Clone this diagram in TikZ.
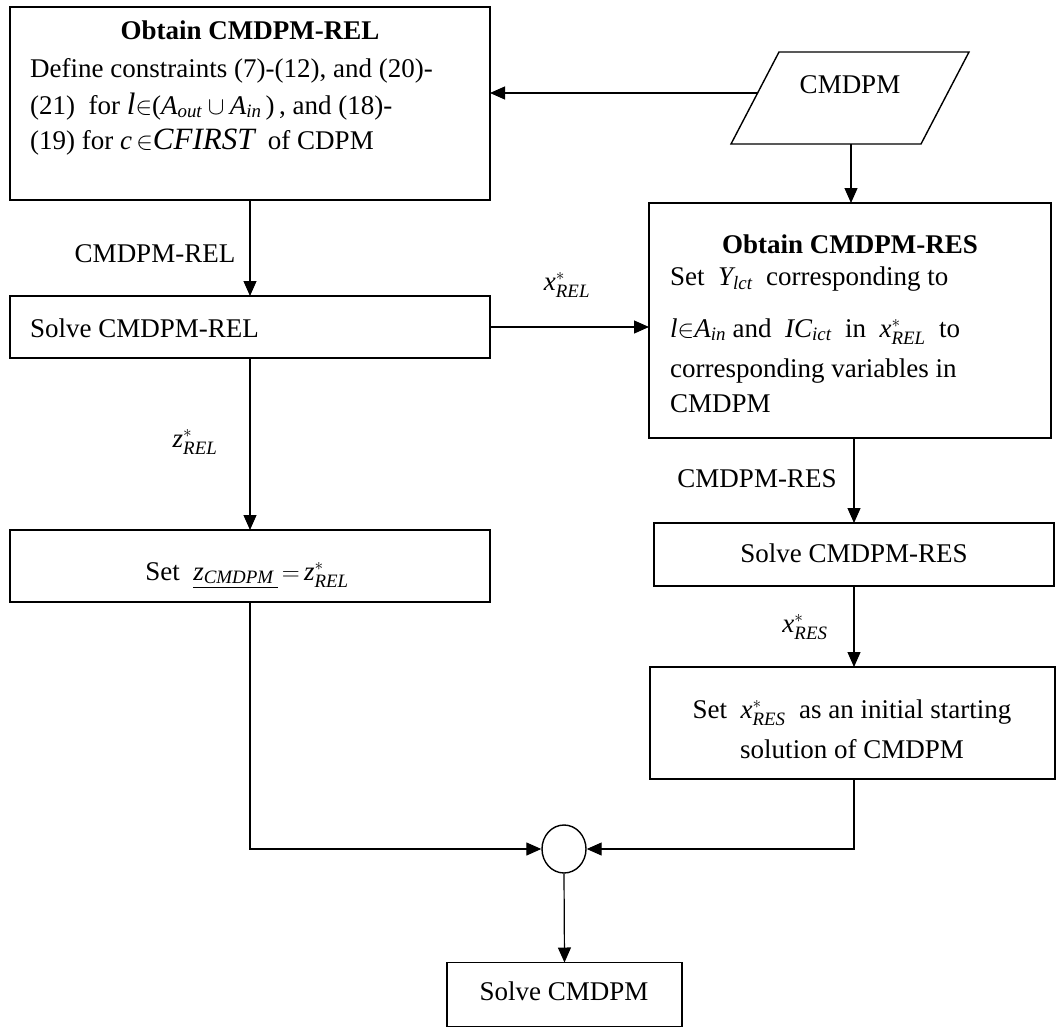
\documentclass[tikz,border=0pt]{standalone}
\usepackage{amsmath}
\usepackage{fontspec}
\setmainfont{Liberation Serif}
\usetikzlibrary{arrows.meta,shapes.geometric}
\newcommand{\vi}[1]{\textit{#1}}
\newcommand{\tin}{\mathord{\in}}
\begin{document}
\begin{tikzpicture}[x=1pt,y=-1pt,
  every node/.style={font=\fontsize{27}{37}\selectfont, inner sep=0pt},
  box/.style={draw, line width=1.5pt, inner sep=0pt, outer sep=0pt},
  conn/.style={line width=1.2pt},
  arr/.style={conn, -{Triangle[length=15pt,width=13pt]}},
  lbl/.style={inner sep=0pt}]
\useasboundingbox (0,0) rectangle (1057,1028);

% ---------- boxes ----------
\node[box, minimum width=480pt, minimum height=193pt] (obtrel) at (250,103.5) {};
\node[box, minimum width=480pt, minimum height=62pt]  (solverel) at (250,327) {};
\node[box, minimum width=480pt, minimum height=72pt]  (setz) at (250,566) {};
\node[box, minimum width=402pt, minimum height=235pt] (obtres) at (850,320.5) {};
\node[box, minimum width=400pt, minimum height=63pt]  (solveres) at (854,554.5) {};
\node[box, minimum width=405pt, minimum height=112pt] (setx) at (852.5,723) {};
\node[box, minimum width=235pt, minimum height=64pt]  (final) at (564.5,994.5) {};
\node[draw, ellipse, line width=1.4pt, minimum width=44pt, minimum height=48pt, inner sep=0pt] (circ) at (564,849) {};

% parallelogram (input CMDPM)
\draw[line width=1.4pt] (731,144) -- (921,144) -- (969,52) -- (779,52) -- cycle;
\node[anchor=base] (cmdpm) at (850,93) {CMDPM};
\coordinate (pL) at (757.6,93);
\coordinate (pB) at (851,144);

% ---------- texts in boxes ----------
\node[anchor=base] (t1) at (250,39) {\textbf{Obtain CMDPM-REL}};
\node[anchor=base west] (t2) at (30,77) {Define constraints (7)-(12), and (20)-};
\node[anchor=base west] (t3) at (30,114) {(21)\ \ for ${\fontsize{31}{37}\selectfont\vi{l}}\tin\text{(}\vi{A}_{\vi{out}}\cup \vi{A}_{\vi{in}}\,\text{)}$\,, and (18)-};
\node[anchor=base west] (t4) at (30,149) {(19) for $\vi{c}\,\tin${\fontsize{31}{37}\selectfont\itshape CFIRST}\ \ of CDPM};

\node[anchor=base west] (sr) at (30,337) {Solve CMDPM-REL};
\node[anchor=base] (sz) at (247,580) {Set\ \ $\underline{\vi{z}_{\vi{CMDPM}}\,}\,{=}\,\vi{z}^{*}_{\vi{REL}}$};

\node[anchor=base] (r1) at (850,253) {\textbf{Obtain CMDPM-RES}};
\node[anchor=base west] (r2) at (670,285) {Set\ \ $\vi{Y}_{\vi{lct}}$\ \ corresponding to};
\node[anchor=base west] (r3) at (670,337) {$\vi{l}\tin\vi{A}_{\vi{in}}$ and\ \ $\vi{IC}_{\vi{ict}}$\ \ in\ \ $\vi{x}^{*}_{\vi{REL}}$\ \ to};
\node[anchor=base west] (r4) at (670,377) {corresponding variables in};
\node[anchor=base west] (r5) at (670,412) {CMDPM};

\node[anchor=base] (ss) at (854,562) {Solve CMDPM-RES};
\node[anchor=base] (sx1) at (852,718) {Set\ \ $\vi{x}^{*}_{\vi{RES}}$\ \ as an initial starting};
\node[anchor=base] (sx2) at (852,758) {solution of CMDPM};
\node[anchor=base] (sf) at (564,1000) {Solve CMDPM};

% ---------- connectors ----------
\draw[arr] (pL) -- (pL -| obtrel.east);
\draw[arr] (pB) -- (pB |- obtres.north);
\draw[arr] (obtrel.south) -- (solverel.north);
\draw[arr] (solverel.south) -- (setz.north);
\draw[arr] (solverel.east) -- (solverel.east -| obtres.west);
\draw[arr] (solveres.north |- obtres.south) -- (solveres.north);
\draw[arr] (solveres.south) -- (solveres.south |- setx.north);
\draw[arr] (solveres.south |- setx.south) |- (circ.east);
\draw[arr] (setz.south) |- (circ.west);
\draw[arr] (circ.south) -- (final.north);

% ---------- connector labels ----------
\node[anchor=base] (l1) at (155,262) {CMDPM-REL};
\node[anchor=base] (l2) at (567,290) {$\vi{x}^{*}_{\vi{REL}}$};
\node[anchor=base] (l3) at (195,447) {$\vi{z}^{*}_{\vi{REL}}$};
\node[anchor=base] (l4) at (757,487) {CMDPM-RES};
\node[anchor=base] (l5) at (805,632) {$\vi{x}^{*}_{\vi{RES}}$};
\end{tikzpicture}
\end{document}
